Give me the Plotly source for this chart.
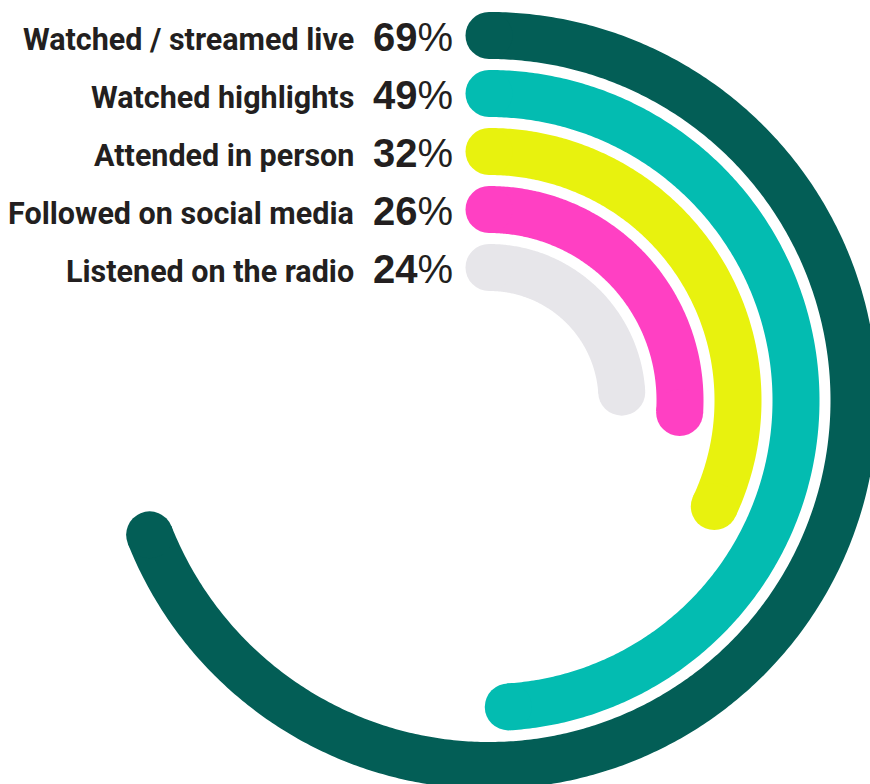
import numpy as np
import plotly.graph_objects as go

# ---- data ----
categories = ["Watched / streamed live", "Watched highlights", "Attended in person",
              "Followed on social media", "Listened on the radio"]
values = [69, 49, 32, 26, 24]
pct_labels = [f"{v}" for v in values]
colors = ["#035E56", "#03BCB1", "#E8F20E", "#FF40C3", "#E7E6EA"]

# ---- layout geometry (pixels; axes are set 1 unit = 1 px) ----
W, H = 870, 784
CX, CY = 489, 400.5          # centre of rings
RADII = [365, 307, 249, 191, 133]
BAND = 47

fig = go.Figure()

for cat, v, col, r in zip(categories, values, colors, RADII):
    sweep = np.deg2rad(v / 100 * 360)
    th = np.linspace(0, sweep, int(np.rad2deg(sweep) * 2) + 2)
    xs = CX + r * np.sin(th)
    ys = CY - r * np.cos(th)
    fig.add_trace(go.Scatter(
        x=xs, y=ys, mode="lines",
        line=dict(color=col, width=BAND, simplify=False), name=cat,
        hoverinfo="skip", showlegend=False))
    fig.add_trace(go.Scatter(
        x=[xs[0], xs[-1]], y=[ys[0], ys[-1]], mode="markers",
        marker=dict(size=BAND, color=col, line=dict(width=0)),
        cliponaxis=False, hoverinfo="skip", showlegend=False))

fig.update_layout(
    width=W, height=H,
    margin=dict(l=0, r=0, t=0, b=0),
    paper_bgcolor="white", plot_bgcolor="white",
    xaxis=dict(range=[0, W], visible=False, showgrid=False, zeroline=False,
               fixedrange=True),
    yaxis=dict(range=[H, 0], visible=False, showgrid=False, zeroline=False,
               fixedrange=True),
)

for cat, p, r in zip(categories, pct_labels, RADII):
    ypx = CY - r
    fig.add_annotation(
        x=356, y=ypx + 4, xref="x", yref="y",
        xanchor="right", yanchor="middle", showarrow=False,
        text=f"<b>{cat}</b>",
        font=dict(family="Roboto", size=30.5, color="#231F20"))
    fig.add_annotation(
        x=455, y=ypx + 1, xref="x", yref="y",
        xanchor="right", yanchor="middle", showarrow=False,
        text=f"<b>{p}</b>%",
        font=dict(family="Liberation Sans", size=40, color="#231F20"))

fig.write_html("out.html")
